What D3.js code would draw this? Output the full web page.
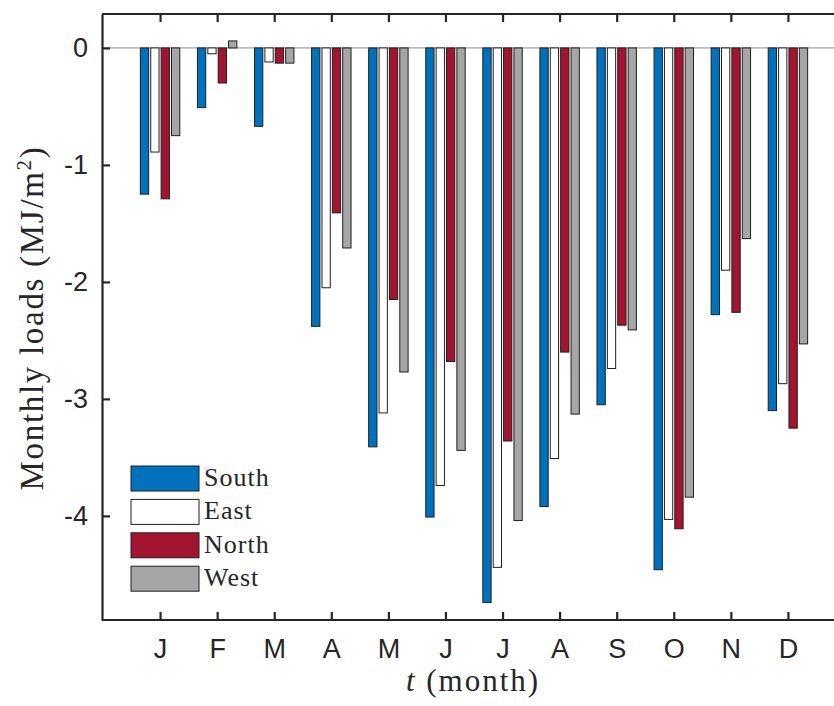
<!DOCTYPE html>
<html>
<head>
<meta charset="utf-8">
<script src="https://cdn.jsdelivr.net/npm/d3@7"></script>
<style>
  html, body { margin: 0; padding: 0; background: #fff; }
  svg { display: block; }
</style>
</head>
<body>
<svg id="chart" width="834" height="706"></svg>
<script>
const months = ["J","F","M","A","M","J","J","A","S","O","N","D"];
const seriesNames = ["South","East","North","West"];
const south = [-1.25,-0.51,-0.67,-2.38,-3.41,-4.01,-4.74,-3.92,-3.05,-4.46,-2.28,-3.10];
const east  = [-0.89,-0.05,-0.12,-2.05,-3.12,-3.74,-4.44,-3.51,-2.74,-4.03,-1.90,-2.87];
const north = [-1.29,-0.30,-0.13,-1.41,-2.15,-2.68,-3.36,-2.60,-2.37,-4.11,-2.26,-3.25];
const west  = [-0.75, 0.06,-0.13,-1.71,-2.77,-3.44,-4.04,-3.13,-2.41,-3.84,-1.63,-2.53];
const yTicks = [0,-1,-2,-3,-4];
const colors = ["#0072BD","#FFFFFF","#A2142F","#A6A6A6"];

const series = [south, east, north, west];
const svg = d3.select("#chart");
const plotLeft = 102, plotTop = 14, plotBottom = 620, rightEnd = 845;
const x = d3.scaleLinear().domain([0, 13]).range([103, rightEnd]);
const y = d3.scaleLinear().domain([-4.89, 0.29]).range([plotBottom, plotTop]);

const axisColor = "#262626";
const serif = "'Liberation Serif', 'Times New Roman', serif";
const groupW = Math.min(0.8, 4 / (4 + 1.5));
const barW = groupW / 4 * 0.8;
const offsets = [0,1,2,3].map(i => -groupW/2 + groupW/8 + i*groupW/4);

// zero baseline
svg.append("line")
  .attr("x1", plotLeft).attr("x2", 834)
  .attr("y1", y(0)).attr("y2", y(0))
  .attr("stroke", "#8c8c8c").attr("stroke-width", 1);

// bars
series.forEach((vals, si) => {
  svg.append("g").selectAll("rect").data(vals).join("rect")
    .attr("x", (d, i) => x(i + 1 + offsets[si]) - (x(barW) - x(0)) / 2)
    .attr("width", x(barW) - x(0))
    .attr("y", d => Math.min(y(d), y(0)))
    .attr("height", d => Math.abs(y(d) - y(0)))
    .attr("fill", colors[si])
    .attr("stroke", "#1f1f1f")
    .attr("stroke-width", 1);
});

// axes
const xBottom = d3.axisBottom(x).tickValues(d3.range(1, 13)).tickFormat((d) => months[d - 1])
  .tickSizeInner(-8).tickSizeOuter(0).tickPadding(19);
const gxb = svg.append("g").attr("transform", `translate(0,${plotBottom})`).call(xBottom);
const xTop = d3.axisTop(x).tickValues(d3.range(1, 13)).tickFormat("")
  .tickSizeInner(-8).tickSizeOuter(0);
const gxt = svg.append("g").attr("transform", `translate(0,${plotTop})`).call(xTop);
const yAxis = d3.axisLeft(y).tickValues(yTicks).tickFormat(d => d === 0 ? "0" : String(d))
  .tickSizeInner(-8).tickSizeOuter(0).tickPadding(14);
const gy = svg.append("g").attr("transform", `translate(${plotLeft},0)`).call(yAxis);

[gxb, gxt, gy].forEach(g => {
  g.select(".domain").attr("stroke", axisColor).attr("stroke-width", 2.2);
  g.selectAll(".tick line").attr("stroke", axisColor).attr("stroke-width", 2.2);
  g.selectAll(".tick text").attr("fill", "#262626")
    .style("font-family", "'Liberation Sans', Arial, sans-serif").style("font-size", "27px");
});
gxb.select(".domain").attr("d", `M${plotLeft},0H834`);
gxt.select(".domain").attr("d", `M${plotLeft},0H834`);

// axis labels
svg.append("text")
  .attr("transform", `translate(43,318) rotate(-90)`)
  .attr("text-anchor", "middle")
  .style("font-family", serif)
  .style("font-size", "33px").style("letter-spacing", "1.7px").attr("fill", "#262626")
  .html('Monthly loads (MJ/m<tspan baseline-shift="super" font-size="21px">2</tspan>)');

svg.append("text")
  .attr("x", 473).attr("y", 691)
  .attr("text-anchor", "middle")
  .style("font-family", serif)
  .style("font-size", "31px").style("letter-spacing", "2px").attr("fill", "#262626")
  .html('<tspan font-style="italic">t</tspan> (month)');

// legend
const leg = svg.append("g");
seriesNames.forEach((name, i) => {
  const yy = 466 + i * 33.4;
  leg.append("rect").attr("x", 131).attr("y", yy).attr("width", 68).attr("height", 25)
    .attr("fill", colors[i]).attr("stroke", "#1f1f1f").attr("stroke-width", 1);
  leg.append("text").attr("x", 204).attr("y", yy + 20)
    .style("font-family", serif)
    .style("font-size", "26px").style("letter-spacing", "1px").attr("fill", "#262626")
    .text(name);
});
</script>
</body>
</html>
